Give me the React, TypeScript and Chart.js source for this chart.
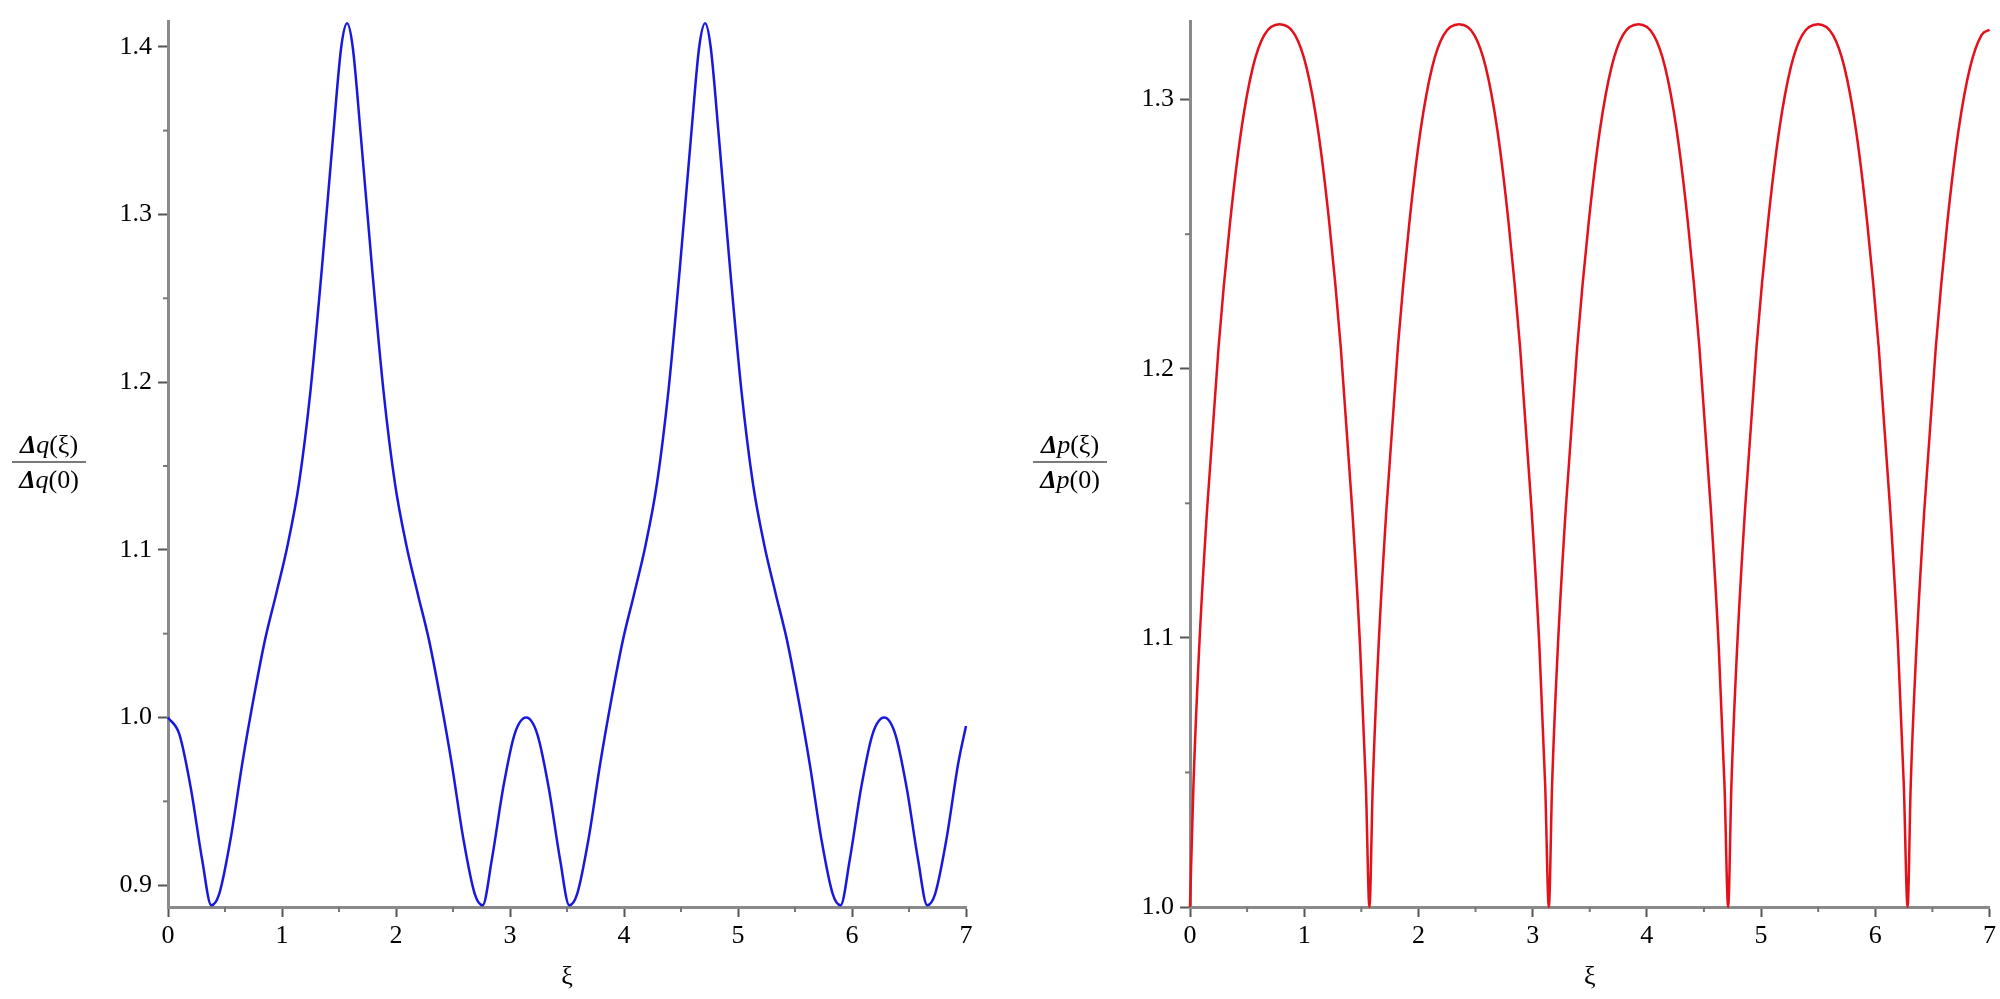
import React, { useEffect, useRef } from 'react';
import { Chart, registerables } from 'chart.js';

Chart.register(...registerables);

// ---- data ----
const leftXi = [
  0, 0.10, 0.20, 0.30, 0.38, 0.45, 0.55, 0.65, 0.75, 0.85, 0.95, 1.05, 1.15, 1.25, 1.35, 1.45, 1.52, 1.571,
  1.62, 1.69, 1.79, 1.89, 1.99, 2.09, 2.19, 2.29, 2.39, 2.49, 2.59, 2.69, 2.76, 2.84, 2.94, 3.04, 3.142,
  3.24, 3.34, 3.44, 3.52, 3.59, 3.69, 3.79, 3.89, 3.99, 4.09, 4.19, 4.29, 4.39, 4.49, 4.59, 4.66, 4.712,
  4.76, 4.83, 4.93, 5.03, 5.13, 5.23, 5.33, 5.43, 5.53, 5.63, 5.73, 5.83, 5.90, 5.98, 6.08, 6.18, 6.283,
  6.38, 6.48, 6.58, 6.66, 6.73, 6.83, 6.93, 7.00,
];
const leftRatio = [
  1.000, 0.990, 0.958, 0.915, 0.888, 0.895, 0.928, 0.972, 1.011, 1.046, 1.074, 1.103, 1.140, 1.195, 1.268, 1.348, 1.400, 1.414,
  1.400, 1.348, 1.268, 1.195, 1.140, 1.103, 1.074, 1.046, 1.011, 0.972, 0.928, 0.895, 0.888, 0.915, 0.958, 0.990, 1.000,
  0.990, 0.958, 0.915, 0.888, 0.895, 0.928, 0.972, 1.011, 1.046, 1.074, 1.103, 1.140, 1.195, 1.268, 1.348, 1.400, 1.414,
  1.400, 1.348, 1.268, 1.195, 1.140, 1.103, 1.074, 1.046, 1.011, 0.972, 0.928, 0.895, 0.888, 0.915, 0.958, 0.990, 1.000,
  0.990, 0.958, 0.915, 0.888, 0.895, 0.928, 0.972, 0.995,
];

const rightXi = [
  0, 0.03, 0.08, 0.15, 0.25, 0.35, 0.45, 0.55, 0.65, 0.785, 0.92, 1.02, 1.12, 1.22, 1.32, 1.42, 1.49, 1.54, 1.571,
  1.60, 1.65, 1.72, 1.82, 1.92, 2.02, 2.12, 2.22, 2.356, 2.49, 2.59, 2.69, 2.79, 2.89, 2.99, 3.06, 3.11, 3.142,
  3.17, 3.22, 3.29, 3.39, 3.49, 3.59, 3.69, 3.79, 3.927, 4.06, 4.16, 4.26, 4.36, 4.46, 4.56, 4.63, 4.68, 4.712,
  4.74, 4.79, 4.86, 4.96, 5.06, 5.16, 5.26, 5.36, 5.498, 5.63, 5.73, 5.83, 5.93, 6.03, 6.13, 6.20, 6.25, 6.283,
  6.31, 6.36, 6.43, 6.53, 6.63, 6.73, 6.83, 6.93, 7.00,
];
const rightRatio = [
  1.000, 1.045, 1.096, 1.148, 1.208, 1.254, 1.289, 1.312, 1.324, 1.328, 1.324, 1.312, 1.289, 1.254, 1.208, 1.148, 1.096, 1.045, 1.000,
  1.045, 1.096, 1.148, 1.208, 1.254, 1.289, 1.312, 1.324, 1.328, 1.324, 1.312, 1.289, 1.254, 1.208, 1.148, 1.096, 1.045, 1.000,
  1.045, 1.096, 1.148, 1.208, 1.254, 1.289, 1.312, 1.324, 1.328, 1.324, 1.312, 1.289, 1.254, 1.208, 1.148, 1.096, 1.045, 1.000,
  1.045, 1.096, 1.148, 1.208, 1.254, 1.289, 1.312, 1.324, 1.328, 1.324, 1.312, 1.289, 1.254, 1.208, 1.148, 1.096, 1.045, 1.000,
  1.045, 1.096, 1.148, 1.208, 1.254, 1.289, 1.312, 1.324, 1.326,
];

const xTicks = [0, 1, 2, 3, 4, 5, 6, 7];
const xMinorTicks = [0.5, 1.5, 2.5, 3.5, 4.5, 5.5, 6.5];
const leftYTicks = [0.9, 1.0, 1.1, 1.2, 1.3, 1.4];
const leftYMinorTicks = [0.95, 1.05, 1.15, 1.25, 1.35];
const rightYTicks = [1.0, 1.1, 1.2, 1.3];
const rightYMinorTicks = [1.05, 1.15, 1.25];

const FONT_FAMILY = '"Liberation Serif", "Times New Roman", serif';

const minorTickPlugin = {
  id: 'minorTicks',
  afterDraw(chart: any, _args: any, opts: any) {
    const { ctx, chartArea } = chart;
    const xs = chart.scales.x;
    const ys = chart.scales.y;
    ctx.save();
    ctx.strokeStyle = '#777777';
    ctx.lineWidth = 2;
    (opts.x || []).forEach((v: number) => {
      const px = xs.getPixelForValue(v);
      ctx.beginPath();
      ctx.moveTo(px, chartArea.bottom);
      ctx.lineTo(px, chartArea.bottom + opts.len);
      ctx.stroke();
    });
    (opts.y || []).forEach((v: number) => {
      const py = ys.getPixelForValue(v);
      ctx.beginPath();
      ctx.moveTo(chartArea.left, py);
      ctx.lineTo(chartArea.left - opts.len, py);
      ctx.stroke();
    });
    ctx.restore();
  },
};

function makeConfig(
  xi: number[],
  vals: number[],
  color: string,
  yMin: number,
  yMax: number,
  yTicks: number[],
  yMinor: number[],
  yAxisWidth: number,
  padRight: number,
): any {
  const font = { family: FONT_FAMILY, size: 26 };
  return {
    type: 'scatter',
    data: {
      datasets: [
        {
          data: xi.map((x, i) => ({ x, y: vals[i] })),
          showLine: true,
          borderColor: color,
          borderWidth: 2.5,
          pointRadius: 0,
          cubicInterpolationMode: 'monotone',
          clip: false,
        },
      ],
    },
    options: {
      animation: false,
      responsive: false,
      maintainAspectRatio: false,
      layout: { padding: { top: 15, right: padRight, left: 0, bottom: 0 } },
      plugins: {
        legend: { display: false },
        tooltip: { enabled: false },
        minorTicks: { x: xMinorTicks, y: yMinor, len: 5 },
      },
      scales: {
        x: {
          type: 'linear',
          min: 0,
          max: 7,
          afterBuildTicks: (s: any) => {
            s.ticks = xTicks.map((v) => ({ value: v }));
          },
          afterFit: (s: any) => {
            s.height = 92;
          },
          ticks: {
            font,
            color: '#000',
            padding: 4,
            maxRotation: 0,
            autoSkip: false,
            callback: (v: any) => String(v),
          },
          grid: { drawOnChartArea: false, drawTicks: true, tickLength: 10, tickColor: '#555', tickWidth: 2 },
          border: { color: '#8a8a8a', width: 3 },
          title: { display: true, text: 'ξ', font, color: '#000', padding: { top: 0, bottom: 6 } },
        },
        y: {
          type: 'linear',
          min: yMin,
          max: yMax,
          afterBuildTicks: (s: any) => {
            s.ticks = yTicks.map((v) => ({ value: v }));
          },
          afterFit: (s: any) => {
            s.width = yAxisWidth;
          },
          ticks: {
            font,
            color: '#000',
            padding: 6,
            autoSkip: false,
            callback: (v: any) => Number(v).toFixed(1),
          },
          grid: { drawOnChartArea: false, drawTicks: true, tickLength: 10, tickColor: '#555', tickWidth: 2 },
          border: { color: '#8a8a8a', width: 3 },
        },
      },
    },
    plugins: [minorTickPlugin],
  };
}

function Fraction({ left, sym }: { left: number; sym: string }) {
  const base: React.CSSProperties = {
    fontFamily: FONT_FAMILY,
    fontSize: 26,
    lineHeight: '26px',
    color: '#000',
    whiteSpace: 'nowrap',
  };
  return (
    <div style={{ position: 'absolute', left, top: 432, width: 74, textAlign: 'center', ...base }}>
      <div style={{ borderBottom: '2px solid #7a7a7a', paddingBottom: 3 }}>
        <b><i>Δ</i></b><i>{sym}</i>(ξ)
      </div>
      <div style={{ paddingTop: 4 }}>
        <b><i>Δ</i></b><i>{sym}</i>(0)
      </div>
    </div>
  );
}

export default function App() {
  const leftRef = useRef<HTMLCanvasElement | null>(null);
  const rightRef = useRef<HTMLCanvasElement | null>(null);

  useEffect(() => {
    document.body.style.margin = '0';
    const charts: Chart[] = [];
    if (leftRef.current) {
      charts.push(
        new Chart(
          leftRef.current,
          makeConfig(leftXi, leftRatio, '#1818e0', 0.887, 1.415, leftYTicks, leftYMinorTicks, 168, 34),
        ),
      );
    }
    if (rightRef.current) {
      charts.push(
        new Chart(
          rightRef.current,
          makeConfig(rightXi, rightRatio, '#e4101a', 1.0, 1.329, rightYTicks, rightYMinorTicks, 190, 10),
        ),
      );
    }
    return () => {
      charts.forEach((c) => c.destroy());
    };
  }, []);

  return (
    <div style={{ position: 'relative', width: 2000, height: 999, background: '#fff', overflow: 'hidden' }}>
      <canvas ref={leftRef} width={1000} height={999} style={{ position: 'absolute', left: 0, top: 0, width: 1000, height: 999 }} />
      <canvas ref={rightRef} width={1000} height={999} style={{ position: 'absolute', left: 1000, top: 0, width: 1000, height: 999 }} />
      <Fraction left={12} sym="q" />
      <Fraction left={1033} sym="p" />
    </div>
  );
}
